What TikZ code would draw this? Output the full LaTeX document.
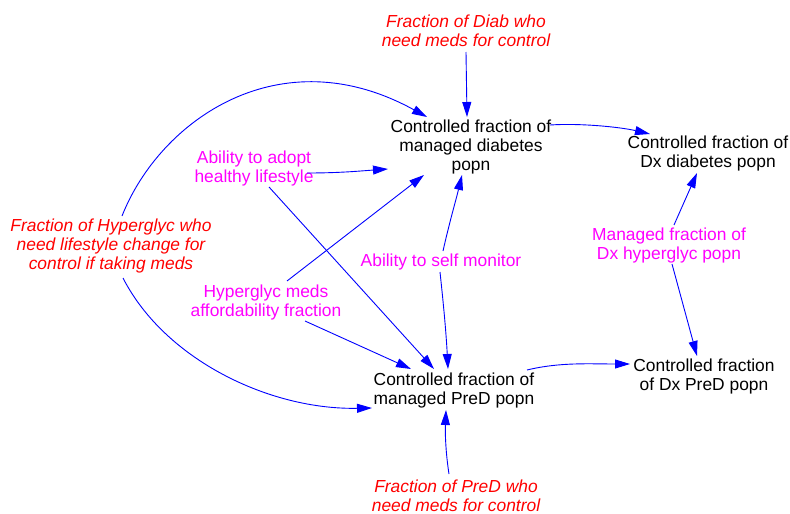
\documentclass[tikz,border=0pt]{standalone}
\usepackage{fontspec}
\setmainfont{Liberation Sans}
\usetikzlibrary{arrows.meta}
\definecolor{linkblue}{HTML}{0000FF}
\definecolor{inred}{HTML}{FF0000}
\definecolor{inmag}{HTML}{FF00FF}
\begin{document}
\begin{tikzpicture}[x=1pt,y=-1pt,
  lbl/.style={align=center,inner sep=1pt,font=\fontsize{17.4}{19}\selectfont},
  stock/.style={lbl,text=black},
  exog/.style={lbl,text=inred,font=\fontsize{17.4}{19}\selectfont\itshape},
  factor/.style={lbl,text=inmag},
  link/.style={draw=linkblue,line width=0.9pt,-{Triangle[length=15pt,width=9pt]}}]
\useasboundingbox (0,0) rectangle (790,514);

% variables
\node[exog]   (DM) at (466,31)  {Fraction of Diab who\\need meds for control};
\node[stock]  (MD) at (471,147) {Controlled fraction of\\managed diabetes\\popn};
\node[stock]  (DD) at (708,153) {Controlled fraction of\\Dx diabetes popn};
\node[factor] (AL) at (254,168) {Ability to adopt\\healthy lifestyle};
\node[exog]   (FH) at (111,246) {Fraction of Hyperglyc who\\need lifestyle change for\\control if taking meds};
\node[factor] (SM) at (441,262) {Ability to self monitor};
\node[factor] (HM) at (266,302) {Hyperglyc meds\\affordability fraction};
\node[factor] (MH) at (669,245) {Managed fraction of\\Dx hyperglyc popn};
\node[stock]  (MP) at (454,390) {Controlled fraction of\\managed PreD popn};
\node[stock]  (DP) at (704,376) {Controlled fraction\\of Dx PreD popn};
\node[exog]   (PM) at (456,496) {Fraction of PreD who\\need meds for control};

% causal links
\draw[link] ([shift={(0,21)}]DM.center) -- ([shift={(-4,-30)}]MD.center);
\draw[link] ([shift={(11,-30)}]FH.center) .. controls (160,120) and (280,36) .. ([shift={(-44,-30)}]MD.center);
\draw[link] ([shift={(12,32)}]FH.center) .. controls (165,360) and (270,410) .. ([shift={(-82,18)}]MP.center);
\draw[link] ([shift={(53,5)}]AL.center) .. controls (340,173) and (360,171) .. ([shift={(-83,22)}]MD.center);
\draw[link] ([shift={(15,19)}]AL.center) -- ([shift={(-20,-21)}]MP.center);
\draw[link] ([shift={(21,-21)}]HM.center) -- ([shift={(-47,28)}]MD.center);
\draw[link] ([shift={(39,19)}]HM.center) -- ([shift={(-43,-21)}]MP.center);
\draw[link] ([shift={(2,-11)}]SM.center) .. controls (450,220) and (456,200) .. ([shift={(-9,28)}]MD.center);
\draw[link] ([shift={(-1,10)}]SM.center) .. controls (443,300) and (446,330) .. ([shift={(-6,-21)}]MP.center);
\draw[link] ([shift={(79,-22)}]MD.center) .. controls (580,123) and (620,127) .. ([shift={(-58,-19)}]DD.center);
\draw[link] ([shift={(5,-20)}]MH.center) -- ([shift={(-11,20)}]DD.center);
\draw[link] ([shift={(3,19)}]MH.center) -- ([shift={(-7,-20)}]DP.center);
\draw[link] ([shift={(73,-20)}]MP.center) .. controls (560,362) and (590,364) .. ([shift={(-74,-12)}]DP.center);
\draw[link] ([shift={(-7,-22)}]PM.center) .. controls (446,455) and (445,435) .. ([shift={(-8,20)}]MP.center);
\end{tikzpicture}
\end{document}
